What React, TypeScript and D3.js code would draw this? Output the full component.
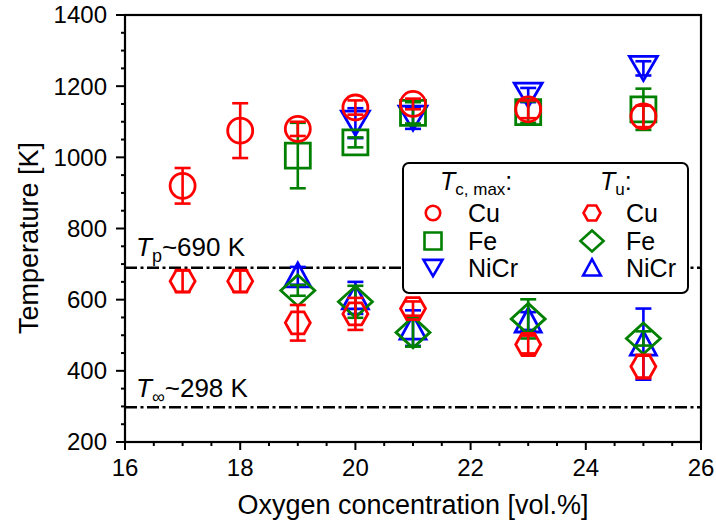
import React from 'react'
import * as d3 from 'd3'

// oxygen concentration [vol.%]
const oxCu = [17, 18, 19, 20, 21, 23, 25]
const oxFe = [19, 20, 21, 23, 25]
const oxNiCrTc = [20, 21, 23, 25]
const oxNiCrTu = [19, 20, 21, 23, 25]

// T_c,max [K] and error
const tcCu = [920, 1075, 1080, 1140, 1150, 1135, 1115]
const tcCuErr = [50, 77, 20, 20, 15, 25, 30]
const tcFe = [1005, 1042, 1125, 1127, 1135]
const tcFeErr = [92, 14, 30, 30, 58]
const tcNiCr = [1096, 1110, 1175, 1250]
const tcNiCrErr = [42, 30, 20, 20]

// T_u [K] and error
const tuCu = [652, 652, 535, 560, 575, 474, 412]
const tuCuErr = [30, 30, 50, 45, 20, 25, 33]
const tuFe = [626, 594, 508, 546, 491]
const tuFeErr = [15, 45, 40, 55, 20]
const tuNiCr = [667, 605, 520, 540, 475]
const tuNiCrErr = [25, 45, 50, 25, 100]

const xTicks = [16, 18, 20, 22, 24, 26]
const yTicks = [200, 400, 600, 800, 1000, 1200, 1400]
const refLines = [690, 298]

const RED = '#ff0000'
const GREEN = '#008000'
const BLUE = '#0000ff'
const FONT = 'Liberation Sans, Arial, Helvetica, sans-serif'

const margin = { left: 125, right: 701, top: 15, bottom: 442 }
const x = d3.scaleLinear().domain([16, 26]).range([margin.left, margin.right])
const y = d3.scaleLinear().domain([200, 1400]).range([margin.bottom, margin.top])

const poly = (pts: number[][], s: number) =>
  'M' + pts.map((p) => `${p[0] * s},${p[1] * s}`).join('L') + 'Z'

const shapes: Record<string, (s: number) => string> = {
  circle: (s) => {
    const r = 12.5 * s
    return `M${-r},0A${r},${r} 0 1,0 ${r},0A${r},${r} 0 1,0 ${-r},0Z`
  },
  square: (s) => poly([[-12.5, -12.5], [12.5, -12.5], [12.5, 12.5], [-12.5, 12.5]], s),
  triDown: (s) => poly([[-14, -12], [14, -12], [0, 12]], s),
  triUp: (s) => poly([[0, -13], [13, 11], [-13, 11]], s),
  hex: (s) => poly([[12.5, 0], [6.25, -11], [-6.25, -11], [-12.5, 0], [-6.25, 11], [6.25, 11]], s),
  diamond: (s) => poly([[0, -15.5], [17, 0], [0, 15.5], [-17, 0]], s),
}

type Series = { xs: number[]; ys: number[]; err: number[]; color: string; shape: string }

const series: Series[] = [
  { xs: oxNiCrTc, ys: tcNiCr, err: tcNiCrErr, color: BLUE, shape: 'triDown' },
  { xs: oxFe, ys: tcFe, err: tcFeErr, color: GREEN, shape: 'square' },
  { xs: oxCu, ys: tcCu, err: tcCuErr, color: RED, shape: 'circle' },
  { xs: oxNiCrTu, ys: tuNiCr, err: tuNiCrErr, color: BLUE, shape: 'triUp' },
  { xs: oxFe, ys: tuFe, err: tuFeErr, color: GREEN, shape: 'diamond' },
  { xs: oxCu, ys: tuCu, err: tuCuErr, color: RED, shape: 'hex' },
]

const legendLeft = [
  { label: 'Cu', color: RED, shape: 'circle' },
  { label: 'Fe', color: GREEN, shape: 'square' },
  { label: 'NiCr', color: BLUE, shape: 'triDown' },
]
const legendRight = [
  { label: 'Cu', color: RED, shape: 'hex' },
  { label: 'Fe', color: GREEN, shape: 'diamond' },
  { label: 'NiCr', color: BLUE, shape: 'triUp' },
]

const App = () => {
  const minorX = d3.range(16, 26.01, 0.5).filter((v) => v % 2 !== 0)
  const minorY = d3.range(200, 1400.1, 50).filter((v) => v % 200 !== 0)
  const rowY = [213, 241, 268]

  return (
    <svg
      width={716}
      height={526}
      style={{ position: 'absolute', left: 0, top: 0, background: '#fff' }}
      fontFamily={FONT}
    >
      {/* reference lines */}
      {refLines.map((t) => (
        <line
          key={t}
          x1={margin.left}
          x2={margin.right}
          y1={y(t)}
          y2={y(t)}
          stroke="#000"
          strokeWidth={2.5}
          strokeDasharray="12,3.5,3,3.5"
        />
      ))}
      <text x={136} y={y(690) - 12} fontSize={26}>
        <tspan fontStyle="italic">T</tspan>
        <tspan fontSize={18} dy={6}>p</tspan>
        <tspan dy={-6}>~690 K</tspan>
      </text>
      <text x={136} y={y(298) - 10} fontSize={26}>
        <tspan fontStyle="italic">T</tspan>
        <tspan fontSize={18} dy={6}>∞</tspan>
        <tspan dy={-6}>~298 K</tspan>
      </text>

      {/* data */}
      {series.map((s, si) => (
        <g key={si} stroke={s.color} fill="none">
          {s.xs.map((xv, i) => {
            const cx = x(xv)
            const top = y(s.ys[i] + s.err[i])
            const bot = y(s.ys[i] - s.err[i])
            return (
              <g key={i}>
                <line x1={cx} x2={cx} y1={top} y2={bot} strokeWidth={2.6} />
                <line x1={cx - 8} x2={cx + 8} y1={top} y2={top} strokeWidth={2.6} />
                <line x1={cx - 8} x2={cx + 8} y1={bot} y2={bot} strokeWidth={2.6} />
                <path
                  d={shapes[s.shape](1)}
                  transform={`translate(${cx},${y(s.ys[i])})`}
                  strokeWidth={2.8}
                />
              </g>
            )
          })}
        </g>
      ))}

      {/* frame */}
      <rect
        x={margin.left}
        y={margin.top}
        width={margin.right - margin.left}
        height={margin.bottom - margin.top}
        fill="none"
        stroke="#000"
        strokeWidth={2.2}
      />

      {/* axes ticks */}
      <g stroke="#000" strokeWidth={2}>
        {xTicks.map((t) => (
          <line key={t} x1={x(t)} x2={x(t)} y1={margin.bottom} y2={margin.bottom + 8} />
        ))}
        {minorX.map((t) => (
          <line key={t} x1={x(t)} x2={x(t)} y1={margin.bottom} y2={margin.bottom + 4} />
        ))}
        {yTicks.map((t) => (
          <line key={t} x1={margin.left - 9} x2={margin.left} y1={y(t)} y2={y(t)} />
        ))}
        {minorY.map((t) => (
          <line key={t} x1={margin.left - 4} x2={margin.left} y1={y(t)} y2={y(t)} />
        ))}
      </g>
      <g fontSize={24} fill="#000">
        {xTicks.map((t) => (
          <text key={t} x={x(t)} y={476} textAnchor="middle">
            {t}
          </text>
        ))}
        {yTicks.map((t) => (
          <text key={t} x={margin.left - 18} y={y(t)} dy="0.35em" textAnchor="end">
            {t}
          </text>
        ))}
      </g>
      <text x={(margin.left + margin.right) / 2} y={514} fontSize={27} textAnchor="middle">
        Oxygen concentration [vol.%]
      </text>
      <text transform="translate(38,238) rotate(-90)" fontSize={27} textAnchor="middle">
        Temperature [K]
      </text>

      {/* legend */}
      <rect x={403} y={163} width={285} height={130} rx={6} fill="#fff" stroke="#000" strokeWidth={2} />
      <text x={440} y={190} fontSize={25}>
        <tspan fontStyle="italic">T</tspan>
        <tspan fontSize={17} dy={5}>c, max</tspan>
        <tspan dy={-5}>:</tspan>
      </text>
      <text x={600} y={190} fontSize={25}>
        <tspan fontStyle="italic">T</tspan>
        <tspan fontSize={17} dy={5}>u</tspan>
        <tspan dy={-5}>:</tspan>
      </text>
      {legendLeft.map((d, i) => (
        <g key={'l' + i}>
          <path
            d={shapes[d.shape](d.shape === 'circle' ? 0.58 : 0.68)}
            transform={`translate(433,${rowY[i]})`}
            fill="none"
            stroke={d.color}
            strokeWidth={2.6}
          />
          <text x={468} y={rowY[i] + 9} fontSize={25}>
            {d.label}
          </text>
        </g>
      ))}
      {legendRight.map((d, i) => (
        <g key={'r' + i}>
          <path
            d={shapes[d.shape](0.68)}
            transform={`translate(592,${rowY[i]})`}
            fill="none"
            stroke={d.color}
            strokeWidth={2.6}
          />
          <text x={626} y={rowY[i] + 9} fontSize={25}>
            {d.label}
          </text>
        </g>
      ))}
    </svg>
  )
}

export default App
